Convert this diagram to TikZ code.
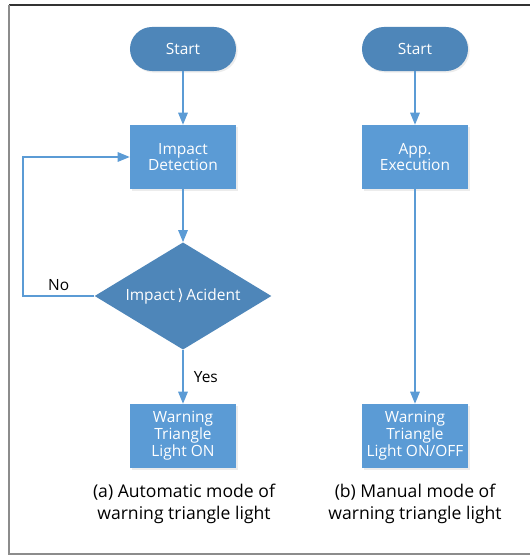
\documentclass[tikz,border=0pt]{standalone}
\usepackage{fontspec}
\setmainfont{Open Sans}
\newfontfamily\symfont{DejaVu Sans}
\usetikzlibrary{shapes.geometric,arrows.meta,shadows}

\definecolor{darkblue}{HTML}{4E86B9}
\definecolor{lightblue}{HTML}{5B9BD5}

\tikzset{
  terminal/.style={draw=none,fill=darkblue,rounded corners=0.55cm,minimum width=2.65cm,minimum height=1.1cm,text=white,font=\fontsize{11}{12}\selectfont,drop shadow={opacity=0.15,shadow xshift=0.4mm,shadow yshift=-0.4mm}},
  process/.style={draw=none,fill=lightblue,minimum width=2.65cm,minimum height=1.6cm,text=white,align=center,inner sep=1pt,font=\fontsize{11}{12}\selectfont,drop shadow={opacity=0.15,shadow xshift=0.4mm,shadow yshift=-0.4mm}},
  decision/.style={diamond,draw=none,fill=darkblue,aspect=1.65,minimum width=4.42cm,minimum height=2.68cm,inner sep=0pt,text=white,font=\fontsize{11}{12}\selectfont},
  flowline/.style={draw=lightblue,line width=0.8pt,-{Triangle[length=3mm,width=2.4mm]}},
  caption/.style={align=center,font=\fontsize{12.5}{15.5}\selectfont}
}

\begin{document}
\begin{tikzpicture}[x=0.025cm,y=-0.025cm]
\useasboundingbox (0,0) rectangle (530,556);

% frame
\draw[line width=0.8pt,black!80] (9,5) -- (530,5);
\draw[line width=0.8pt,black!45] (9,5) -- (9,554) -- (530,554);

% (a) automatic mode
\node[terminal] (startA) at (183,49) {Start};
\node[process] (detect) at (183,157) {Impact\\Detection};
\node[decision] (check) at (183,296) {Impact\,{\symfont ⟩}\,Acident};
\node[process] (lightA) at (183,436) {Warning\\Triangle\\Light ON};
\coordinate (loopbot) at (23,296);
\coordinate (looptop) at (23,157);

\draw[flowline] (startA) -- (detect);
\draw[flowline] (detect) -- (check);
\draw[flowline] (check) -- node[right,xshift=4pt,text=black,font=\fontsize{11}{12}\selectfont] {Yes} (lightA);
\draw[flowline] (check.west) -- node[above,text=black,font=\fontsize{11}{12}\selectfont] {No} (loopbot) -- (looptop) -- (detect.west);

\node[caption] (capA) at (184,504) {(a) Automatic mode of\\warning triangle light};

% (b) manual mode
\node[terminal] (startB) at (415,49) {Start};
\node[process] (execute) at (415,157) {App.\\Execution};
\node[process] (lightB) at (415,436) {Warning\\Triangle\\Light ON/OFF};

\draw[flowline] (startB) -- (execute);
\draw[flowline] (execute) -- (lightB);

\node[caption] (capB) at (415,504) {(b) Manual mode of\\warning triangle light};
\end{tikzpicture}
\end{document}
